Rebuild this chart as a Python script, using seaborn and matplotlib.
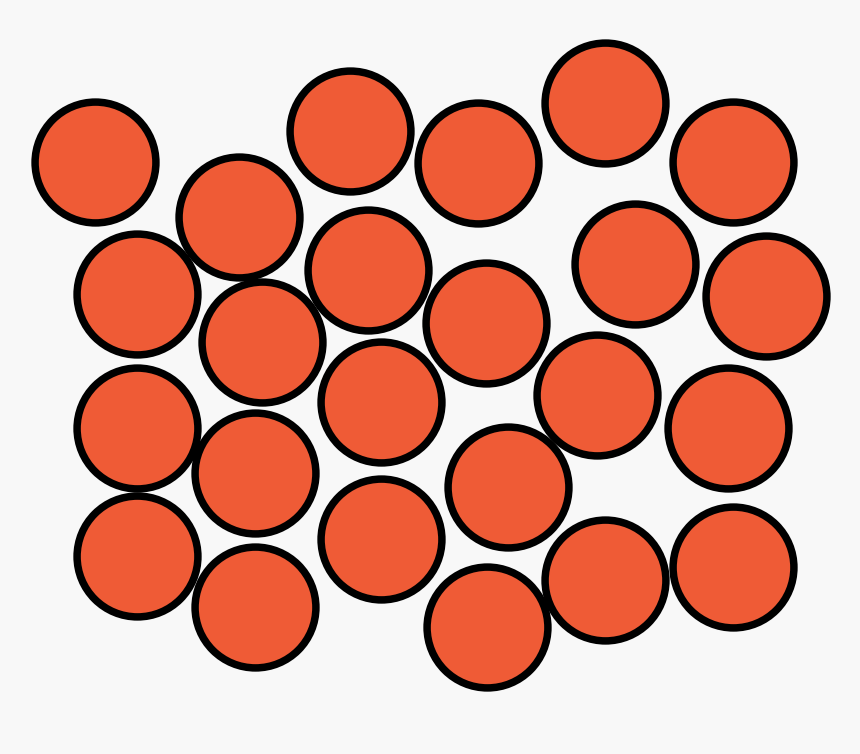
import matplotlib
matplotlib.use("Agg")
import matplotlib.pyplot as plt
import seaborn as sns
import pandas as pd

# circle centres, in picture pixels (y grows downwards)
x_pos = [95, 239, 350, 478, 605, 733,
         137, 368, 635, 766, 262, 486,
         137, 381, 597, 728, 255, 508,
         137, 381, 255, 487, 605, 733]
y_pos = [162, 217, 131, 163, 103, 162,
         294, 270, 264, 296, 342, 323,
         428, 402, 395, 428, 473, 487,
         556, 539, 607, 627, 580, 567]

df = pd.DataFrame({"x": x_pos, "y": y_pos})

sns.set_style("white")
fig = plt.figure(figsize=(8.6, 7.54), dpi=100, facecolor="#f8f8f8")
ax = fig.add_axes([0, 0, 1, 1])
ax.set_facecolor("#f8f8f8")

sns.scatterplot(data=df, x="x", y="y", ax=ax, s=87 ** 2,
                color="#ef5b36", edgecolor="black", linewidth=5.4, legend=False)

ax.set_xlim(0, 860)
ax.set_ylim(754, 0)
ax.axis("off")

fig.savefig("out.png", dpi=100, facecolor=fig.get_facecolor())
